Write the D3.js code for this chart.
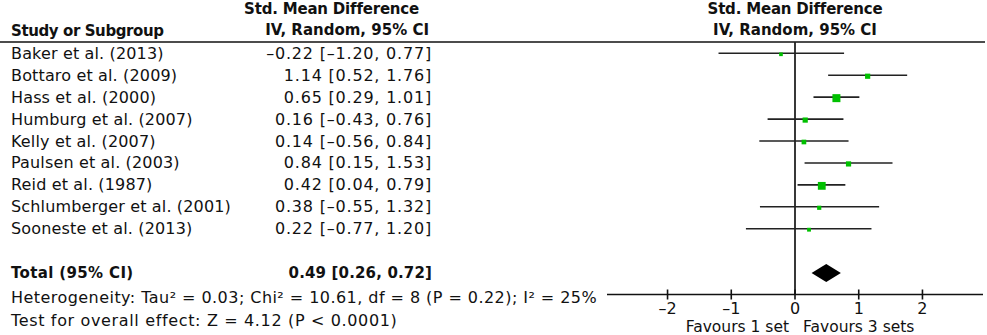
<!DOCTYPE html>
<html>
<head>
<meta charset="utf-8">
<script src="https://cdn.jsdelivr.net/npm/d3@7"></script>
<style>
  body { margin: 0; background: #fff; }
  svg { display: block; font-family: "DejaVu Sans", sans-serif; }
</style>
</head>
<body>
<div id="chart"></div>
<script>
// study rows
const studies = ["Baker et al. (2013)", "Bottaro et al. (2009)", "Hass et al. (2000)",
  "Humburg et al. (2007)", "Kelly et al. (2007)", "Paulsen et al. (2003)",
  "Reid et al. (1987)", "Schlumberger et al. (2001)", "Sooneste et al. (2013)"];
const smd   = [-0.22, 1.14, 0.65, 0.16, 0.14, 0.84, 0.42, 0.38, 0.22];
const lower = [-1.20, 0.52, 0.29, -0.43, -0.56, 0.15, 0.04, -0.55, -0.77];
const upper = [0.77, 1.76, 1.01, 0.76, 0.84, 1.53, 0.79, 1.32, 1.20];
const weight = [4.9, 9.9, 23.4, 9.9, 8.0, 9.9, 22.3, 6.4, 5.4];   // estimated from square sizes

const total = {est: 0.49, lo: 0.26, hi: 0.72};
const ticks = [-2, -1, 0, 1, 2];
const hetText = "Heterogeneity: Tau² = 0.03; Chi² = 10.61, df = 8 (P = 0.22); I² = 25%";
const testText = "Test for overall effect: Z = 4.12 (P < 0.0001)";
const favLeft = "Favours 1 set", favRight = "Favours 3 sets";

const W = 987, H = 335;
const fs = 16, fb = 15;

const fmt = v => d3.format(".2f")(v).replace("-", "–").replace("−", "–");

const svg = d3.select("#chart").append("svg")
  .attr("width", W).attr("height", H)
  .attr("viewBox", `0 0 ${W} ${H}`);

const x = d3.scaleLinear().domain([-2.95, 2.95]).range([607, 983]);
const y = d3.scaleLinear().domain([0, 8]).range([53.3, 228.7]);
const sq = d3.scaleSqrt().domain([0, d3.max(weight)]).range([0, 8]);

const rows = studies.map((s, i) => ({name: s, est: smd[i], lo: lower[i], hi: upper[i], w: weight[i], i}));

// headers
const head = svg.append("g").attr("font-size", fb).attr("font-weight", "bold").attr("fill", "#111");
head.append("text").attr("x", 11).attr("y", 36).attr("letter-spacing", -0.4).text("Study or Subgroup");
head.append("text").attr("x", 419).attr("y", 14).attr("text-anchor", "end").attr("letter-spacing", -0.2).text("Std. Mean Difference");
head.append("text").attr("x", 429).attr("y", 35).attr("text-anchor", "end").text("IV, Random, 95% CI");
head.append("text").attr("x", x(0)).attr("y", 14).attr("text-anchor", "middle").attr("letter-spacing", -0.2).text("Std. Mean Difference");
head.append("text").attr("x", x(0)).attr("y", 35).attr("text-anchor", "middle").text("IV, Random, 95% CI");

svg.append("line").attr("x1", 0).attr("x2", 985).attr("y1", 42).attr("y2", 42)
  .attr("stroke", "#111").attr("stroke-width", 1.6);

// study labels and CI text
const txt = svg.append("g").attr("font-size", fs).attr("fill", "#111");
txt.selectAll(".name").data(rows).join("text").attr("class", "name")
  .attr("x", 11).attr("y", d => y(d.i) + 5.5).attr("letter-spacing", 0.15).text(d => d.name);
txt.selectAll(".ci").data(rows).join("text").attr("class", "ci")
  .attr("x", 432).attr("y", d => y(d.i) + 5.5).attr("text-anchor", "end").attr("letter-spacing", 0.8)
  .text(d => `${fmt(d.est)} [${fmt(d.lo)}, ${fmt(d.hi)}]`);

// totals
const yTot = 273;
txt.append("text").attr("x", 11).attr("y", yTot + 5).attr("font-weight", "bold").attr("font-size", fb)
  .attr("letter-spacing", 0.35).text("Total (95% CI)");
txt.append("text").attr("x", 432).attr("y", yTot + 5).attr("font-weight", "bold").attr("font-size", fb)
  .attr("text-anchor", "end").attr("letter-spacing", 0.15)
  .text(`${fmt(total.est)} [${fmt(total.lo)}, ${fmt(total.hi)}]`);
txt.append("text").attr("x", 11).attr("y", 303).attr("letter-spacing", 0.45).text(hetText);
txt.append("text").attr("x", 11).attr("y", 326).attr("letter-spacing", 0.65).text(testText);

// zero line
const axisY = 294.5;
svg.append("line").attr("x1", x(0)).attr("x2", x(0)).attr("y1", 42).attr("y2", axisY)
  .attr("stroke", "#222").attr("stroke-width", 1.8);

// CI lines and squares
svg.selectAll(".cil").data(rows).join("line").attr("class", "cil")
  .attr("x1", d => x(d.lo)).attr("x2", d => x(d.hi))
  .attr("y1", d => y(d.i)).attr("y2", d => y(d.i))
  .attr("stroke", "#222").attr("stroke-width", 1.6);
svg.selectAll(".sq").data(rows).join("rect").attr("class", "sq")
  .attr("x", d => x(d.est) - sq(d.w) / 2)
  .attr("y", d => y(d.i) + 1 - sq(d.w) / 2)
  .attr("width", d => sq(d.w)).attr("height", d => sq(d.w))
  .attr("fill", "#00c000");

// diamond
svg.append("path")
  .attr("d", `M${x(total.lo)},${yTot} L${x(total.est)},${yTot - 9} L${x(total.hi)},${yTot} L${x(total.est)},${yTot + 9} Z`)
  .attr("fill", "#000");

// axis
const ax = svg.append("g").attr("transform", `translate(0,${axisY})`);
ax.append("line").attr("x1", x.range()[0]).attr("x2", x.range()[1])
  .attr("stroke", "#111").attr("stroke-width", 1.6);
ax.selectAll(".tk").data(ticks).join("line").attr("class", "tk")
  .attr("x1", d => x(d)).attr("x2", d => x(d)).attr("y1", -5).attr("y2", 5)
  .attr("stroke", "#111").attr("stroke-width", 1.6);
ax.selectAll(".tl").data(ticks).join("text").attr("class", "tl")
  .attr("x", d => x(d)).attr("y", 19).attr("text-anchor", "middle")
  .attr("font-size", fs).attr("fill", "#111")
  .text(d => d < 0 ? "–" + Math.abs(d) : d);

svg.append("text").attr("x", x(0) - 6).attr("y", 332).attr("text-anchor", "end")
  .attr("font-size", 15.5).attr("fill", "#111").text(favLeft);
svg.append("text").attr("x", x(0) + 8).attr("y", 332)
  .attr("font-size", 15.5).attr("fill", "#111").text(favRight);
</script>
</body>
</html>
